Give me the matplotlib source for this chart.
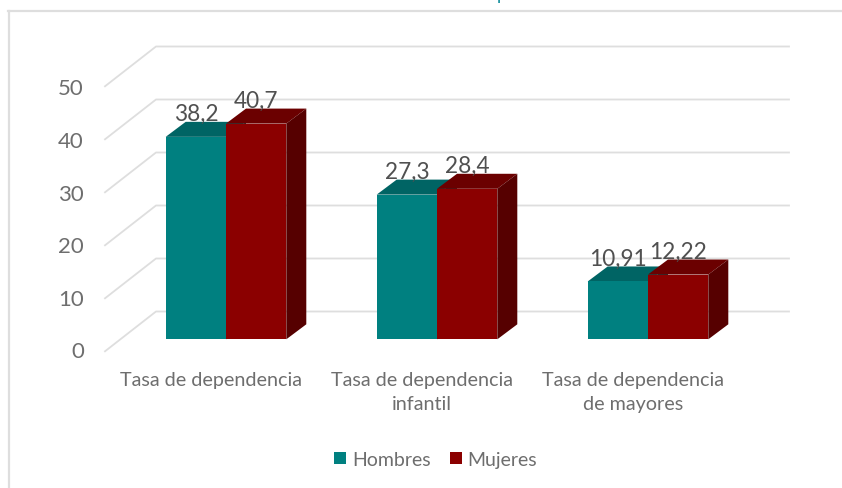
import matplotlib
matplotlib.use("Agg")
import matplotlib.pyplot as plt
from matplotlib.patches import Polygon, Rectangle
from matplotlib.lines import Line2D

categories = ["Tasa de dependencia", "Tasa de dependencia\ninfantil", "Tasa de dependencia\nde mayores"]
hombres = [38.2, 27.3, 10.91]
mujeres = [40.7, 28.4, 12.22]
hombres_labels = ["38,2", "27,3", "10,91"]
mujeres_labels = ["40,7", "28,4", "12,22"]
ticks = [0, 10, 20, 30, 40, 50]

plt.rcParams['font.family'] = ['Lato', 'DejaVu Sans']
W, H = 842, 489
PX_X = 211.0      # pixels per category
PX_Y = 5.3        # pixels per value unit
X0, Y0 = 226.0, 340.3
fig = plt.figure(figsize=(W/100, H/100), dpi=100)
ax = fig.add_axes([0, 0, 1, 1])
ax.set_xlim((0-X0)/PX_X, (W-X0)/PX_X)
ax.set_ylim((Y0-H)/PX_Y, (Y0-0)/PX_Y)
ax.axis("off")

bw = 60.3/PX_X
dx, dy = 20/PX_X, 15/PX_Y
TEAL, RED = "#008080", "#8B0000"
faces = {TEAL: ("#006464", "#004F4F"), RED: ("#6B0000", "#560000")}
GRID = "#DEDEDE"

# frame
ax.add_line(Line2D([(8-X0)/PX_X, (W-X0)/PX_X], [(Y0-12)/PX_Y]*2, color=GRID, lw=1.6))
ax.add_line(Line2D([(8.5-X0)/PX_X]*2, [(Y0-12)/PX_Y, (Y0-H)/PX_Y], color=GRID, lw=1.6))
ax.text((502-X0)/PX_X, (Y0+0)/PX_Y, "p", color="#0E8C9B", fontsize=13, ha="center", va="baseline")

# wall & floor grid
back_x0, back_x1 = (156-X0)/PX_X, (789-X0)/PX_X
front_x = (105-X0)/PX_X
back_off, front_off = 27.8/PX_Y, -12/PX_Y
for t in ticks:
    ax.add_line(Line2D([front_x, back_x0, back_x1],
                       [t+front_off, t+back_off, t+back_off],
                       color=GRID, lw=1.3, zorder=1))

def bar(x, v, c):
    top, side = faces[c]
    ax.add_patch(Polygon([(x, v), (x+dx, v+dy), (x+bw+dx, v+dy), (x+bw, v)], fc=top, ec="none", zorder=3))
    ax.add_patch(Polygon([(x+bw, 0), (x+bw+dx, dy), (x+bw+dx, v+dy), (x+bw, v)], fc=side, ec="none", zorder=3))
    ax.add_patch(Rectangle((x, 0), bw, v, fc=c, ec="none", zorder=4))

lab_off = 16.5/PX_Y
for i in range(len(categories)):
    bar(i-bw, hombres[i], TEAL)
    bar(i, mujeres[i], RED)
    ax.text(i-bw/2, hombres[i]+lab_off, hombres_labels[i], color="#505050", fontsize=16.3, ha="center", va="baseline", zorder=6)
    ax.text(i+bw/2, mujeres[i]+lab_off, mujeres_labels[i], color="#505050", fontsize=16.3, ha="center", va="baseline", zorder=6)
    ax.text(i-0.07, -5.95, categories[i], color="#6E6E6E", fontsize=14.2, ha="center", va="top", linespacing=1.52)

for t in ticks:
    ax.text((84-X0)/PX_X, t*0.9925+(Y0-352.5)/PX_Y, str(t), color="#6E6E6E", fontsize=16, ha="right", va="center")

# legend
for px, tx, c, lab in [(334, 352, TEAL, "Hombres"), (450, 467, RED, "Mujeres")]:
    ax.add_patch(Rectangle(((px-X0)/PX_X, (Y0-465)/PX_Y), 12/PX_X, 12/PX_Y, fc=c, ec="none"))
    ax.text((tx-X0)/PX_X, (Y0-461)/PX_Y, lab, color="#6E6E6E", fontsize=14, ha="left", va="center")

fig.savefig("out.png", dpi=100)
